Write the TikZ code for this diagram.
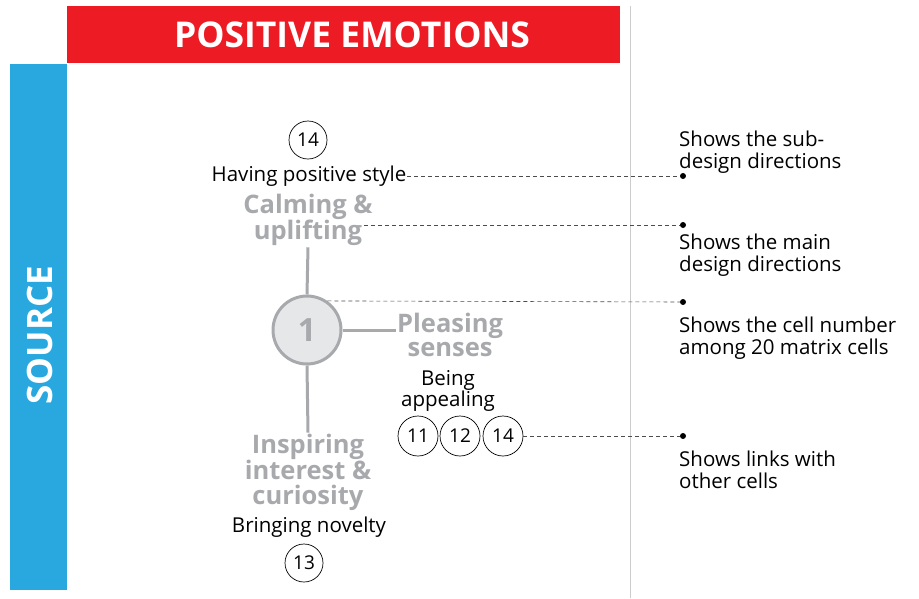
\documentclass[tikz,border=0pt]{standalone}
\usepackage{fontspec}
\setmainfont{Open Sans}
\definecolor{topred}{HTML}{ED1C24}
\definecolor{sideblue}{HTML}{29A8E0}
\definecolor{dirgray}{HTML}{A7A9AC}
\definecolor{cellfill}{HTML}{E6E7E8}
\begin{document}
\begin{tikzpicture}[x=1pt,y=-1pt,
  num/.style={circle,draw=black,line width=0.7pt,minimum size=38pt,inner sep=0pt,font=\fontsize{19}{20}\selectfont},
  subdir/.style={font=\fontsize{20.5}{21.5}\selectfont,align=center,inner sep=1pt},
  maindir/.style={font=\fontsize{25.5}{24.5}\selectfont\bfseries,text=dirgray,align=center,inner sep=1pt},
  note/.style={font=\fontsize{20.5}{22}\selectfont,align=left,anchor=west,inner sep=0pt},
  conn/.style={draw=dirgray,line width=3pt},
  guide/.style={draw=black!70,line width=0.6pt,dash pattern=on 4pt off 3pt},
  dotmark/.style={circle,fill=black,inner sep=0pt,minimum size=6pt}]
\useasboundingbox (0,0) rectangle (919,598);
% bars
\fill[topred] (67,6) rectangle (620,63);
\node[text=white,font=\fontsize{35.5}{38}\selectfont\bfseries] (title) at (352,35) {POSITIVE EMOTIONS};
\fill[sideblue] (10,64) rectangle (67,590);
\node[text=white,font=\fontsize{35}{38}\selectfont\bfseries,rotate=90] (src) at (40,335) {SOURCE};
\draw[black!20,line width=1pt] (630,6) -- (630,598);
% top
\node[num] (c14a) at (308,140) {14};
\node[subdir] (hps) at (309,176) {Having positive style};
\node[maindir] (calm) at (308,220) {Calming \&\\uplifting};
\node[circle,draw=dirgray,fill=cellfill,line width=3pt,minimum size=68pt,inner sep=0pt,
      text=dirgray,font=\fontsize{32}{34}\selectfont\bfseries] (one) at (307,330) {1};
\draw[conn] (calm.south) -- (one.north);
% right branch
\node[maindir,anchor=west] (pleas) at (396,335) {Pleasing\\senses};
\draw[conn] (one.east) -- (one.east -| pleas.west);
\node[subdir] (appeal) at (448,391) {Being\\appealing};
\node[num,minimum size=40pt] (c11) at (418,436) {11};
\node[num,minimum size=40pt] (c12) at (460,436) {12};
\node[num,minimum size=40pt] (c14b) at (503,436) {14};
% bottom branch
\node[maindir] (insp) at (308,472) {Inspiring\\interest \&\\curiosity};
\draw[conn] (one.south) -- (insp.north);
\node[subdir] (nov) at (309,527) {Bringing novelty};
\node[num] (c13) at (304,563) {13};
% guides
\node[dotmark] (d1) at (683,176) {};
\node[dotmark] (d2) at (683,225) {};
\node[dotmark] (d3) at (683,302) {};
\node[dotmark] (d4) at (683,436) {};
\coordinate (s2) at (364,225);
\draw[guide] (hps.east) -- (d1);
\draw[guide] (s2) -- (d2);
\draw[guide] (one.55) -- (d3);
\draw[guide] (c14b.east) -- (d4);
\node[note] (n1) at (679,152) {Shows the sub-\\design directions};
\node[note] (n2) at (679,255) {Shows the main\\design directions};
\node[note] (n3) at (679,338) {Shows the cell number\\among 20 matrix cells};
\node[note] (n4) at (679,470) {Shows links with\\other cells};
\end{tikzpicture}
\end{document}
